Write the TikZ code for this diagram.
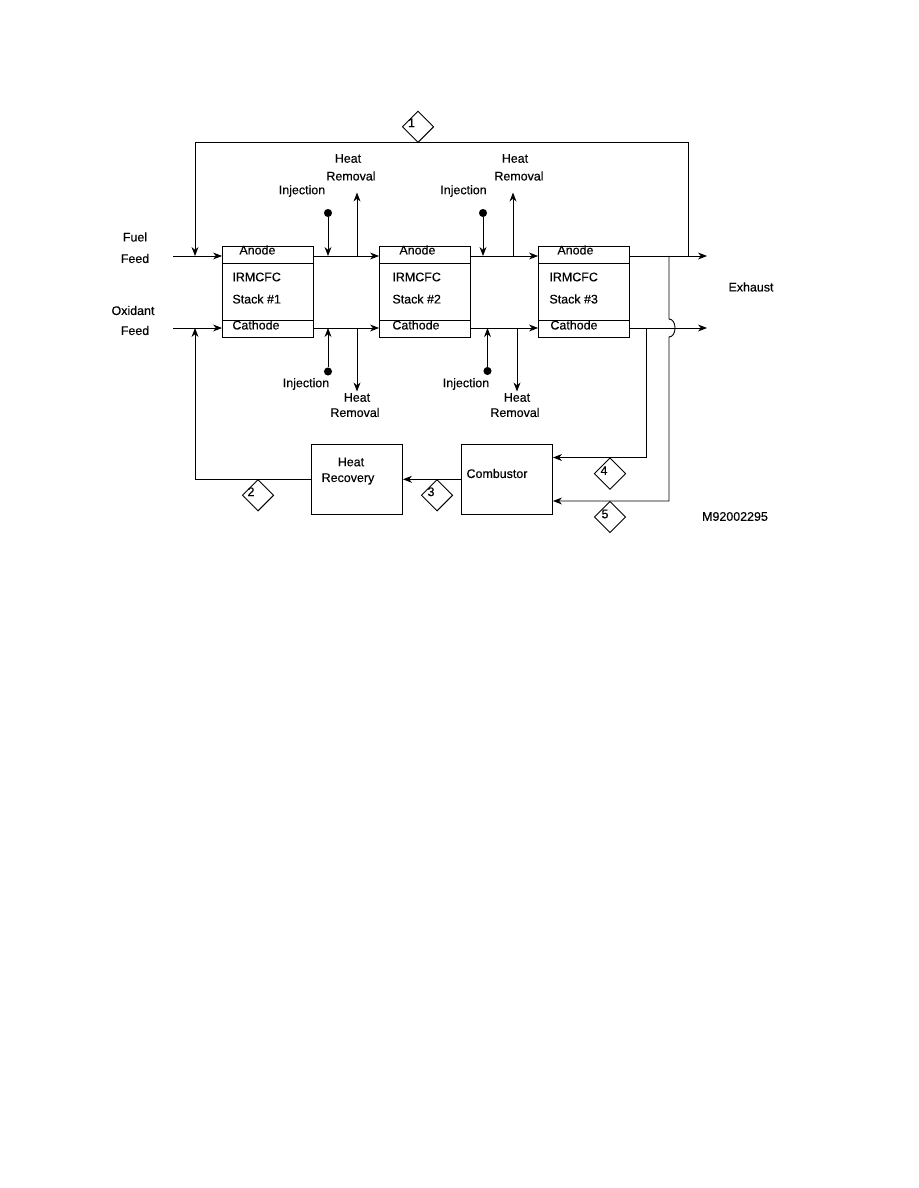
\documentclass[tikz,border=0pt]{standalone}
\usepackage{fontspec}
\setmainfont{Liberation Sans}[FakeBold=0.35]
\usetikzlibrary{arrows.meta,shapes.geometric,calc}
\begin{document}
\begin{tikzpicture}[x=0.6667pt,y=-0.6667pt,
  line width=0.6pt,
  arr/.style={-{Stealth[length=6pt,width=4.6pt,inset=1.9pt]}},
  lbl/.style={font=\fontsize{8.3}{10}\selectfont, inner sep=0pt},
  stackbox/.style={draw, rectangle, minimum width=60.67pt, minimum height=60.67pt, inner sep=0pt},
  unitbox/.style={draw, rectangle, minimum width=60.67pt, minimum height=46.67pt, inner sep=0pt},
  dia/.style={draw, diamond, minimum width=21pt, minimum height=21pt, inner sep=0pt},
  dot/.style={circle, fill, minimum size=5.4pt, inner sep=0pt},
]
\fill[white] (0,0) rectangle (918,1188);
\useasboundingbox (0,0) rectangle (918,1188);

% stacks
\node[stackbox] (s1) at (268,291.5) {};
\node[stackbox] (s2) at (425,291.5) {};
\node[stackbox] (s3) at (584,291.5) {};
\foreach \s in {s1,s2,s3}{
  \draw ($(\s.north west)+(0,18)$) -- ($(\s.north east)+(0,18)$);
  \draw ($(\s.south west)+(0,-17)$) -- ($(\s.south east)+(0,-17)$);
}
\node[lbl,anchor=west] (a1) at (239,250) {Anode};
\node[lbl,anchor=west] (t1) at (232,277) {IRMCFC};
\node[lbl,anchor=west] (n1) at (232,299) {Stack \#1};
\node[lbl,anchor=west] (c1) at (232,325) {Cathode};
\node[lbl,anchor=west] (a2) at (399,250) {Anode};
\node[lbl,anchor=west] (t2) at (392,277) {IRMCFC};
\node[lbl,anchor=west] (n2) at (392,299) {Stack \#2};
\node[lbl,anchor=west] (c2) at (392,325) {Cathode};
\node[lbl,anchor=west] (a3) at (557,250) {Anode};
\node[lbl,anchor=west] (t3) at (549,277) {IRMCFC};
\node[lbl,anchor=west] (n3) at (549,299) {Stack \#3};
\node[lbl,anchor=west] (c3) at (550,325) {Cathode};

% units
\node[unitbox] (hr) at (357,479.2) {};
\node[lbl] (hrt1) at (351,462) {Heat};
\node[lbl] (hrt2) at (348,479) {Recovery};
\node[unitbox] (cb) at (507,479.2) {};
\node[lbl] (cbt) at (497,473.5) {Combustor};

% feed labels and lines
\node[lbl] (fuel) at (135,237) {Fuel};
\node[lbl] (ffeed) at (135,258.5) {Feed};
\node[lbl] (oxid) at (133,310.5) {Oxidant};
\node[lbl] (ofeed) at (135,330.5) {Feed};
\coordinate (f0) at (173,256);
\coordinate (o0) at (173,328);
\draw[arr] (f0) -- (s1.west |- f0);
\draw[arr] (o0) -- (s1.west |- o0);
\draw[arr] (s1.east |- f0) -- (s2.west |- f0);
\draw[arr] (s1.east |- o0) -- (s2.west |- o0);
\draw[arr] (s2.east |- f0) -- (s3.west |- f0);
\draw[arr] (s2.east |- o0) -- (s3.west |- o0);
\coordinate (fe) at (707,256);
\coordinate (oe) at (707,328);
\draw[arr] (s3.east |- f0) -- (fe);
\draw[arr] (s3.east |- o0) -- (oe);
\node[lbl] (exh) at (751,287) {Exhaust};

% injections and heat removal, stage 1
\node[dot] (i1t) at (328,213) {};
\draw[arr] (i1t) -- (i1t |- f0);
\coordinate (h1t) at (357,192.5);
\draw[arr] (h1t |- f0) -- (h1t);
\node[lbl] (i1tl) at (302,191) {Injection};
\node[lbl] (h1tl1) at (348,158.5) {Heat};
\node[lbl] (h1tl2) at (351,176) {Removal};
\node[dot] (i1b) at (328,371.5) {};
\draw[arr] (i1b) -- (i1b |- o0);
\coordinate (h1b) at (357,391.5);
\draw[arr] (h1b |- o0) -- (h1b);
\node[lbl] (i1bl) at (306,384) {Injection};
\node[lbl] (h1bl1) at (357,397.5) {Heat};
\node[lbl] (h1bl2) at (355,412.5) {Removal};

% stage 2
\node[dot] (i2t) at (483,213) {};
\draw[arr] (i2t) -- (i2t |- f0);
\coordinate (h2t) at (513,192.5);
\draw[arr] (h2t |- f0) -- (h2t);
\node[lbl] (i2tl) at (463.5,191) {Injection};
\node[lbl] (h2tl1) at (515,158.5) {Heat};
\node[lbl] (h2tl2) at (519,176) {Removal};
\node[dot] (i2b) at (487.5,371) {};
\draw[arr] (i2b) -- (i2b |- o0);
\coordinate (h2b) at (517,391.5);
\draw[arr] (h2b |- o0) -- (h2b);
\node[lbl] (i2bl) at (466,384) {Injection};
\node[lbl] (h2bl1) at (517,397.5) {Heat};
\node[lbl] (h2bl2) at (515,412.5) {Removal};

% recycle 1 (anode exhaust to fuel feed)
\coordinate (r1a) at (688,256);
\coordinate (r1b) at (688,142.5);
\coordinate (r1c) at (195,142.5);
\draw[arr] (r1a) -- (r1b) -- (r1c) -- (r1c |- f0);
\node[dia] (d1) at (418,126.8) {};
\node[lbl] (d1n) at ($(d1)+(-6.5,-4)$) {1};

% recycle 2 (heat recovery to oxidant feed)
\coordinate (r2c) at (195,479.3);
\draw[arr] (hr.west |- r2c) -- (r2c) -- (r2c |- o0);
\node[dia] (d2) at (258,495.3) {};
\node[lbl] (d2n) at ($(d2)+(-7,-3.5)$) {2};

% stream 3
\draw[arr] (cb.west |- r2c) -- (hr.east |- r2c);
\node[dia] (d3) at (437,495.3) {};
\node[lbl] (d3n) at ($(d3)+(-6,-3.5)$) {3};

% stream 4 (cathode exhaust to combustor)
\coordinate (v4a) at (646,328);
\coordinate (v4b) at (646,457.5);
\draw[arr] (v4a) -- (v4b) -- (cb.east |- v4b);
\node[dia] (d4) at (610,473.6) {};
\node[lbl] (d4n) at ($(d4)+(-6,-3)$) {4};

% stream 5 (anode exhaust to combustor, hopping over cathode exhaust)
\coordinate (v5a) at (669,256);
\coordinate (v5h1) at (669,319);
\coordinate (v5h2) at (669,337);
\coordinate (v5b) at (669,501);
\draw[arr] (v5a) -- (v5h1) .. controls (677,319) and (677,337) .. (v5h2) -- (v5b) -- (cb.east |- v5b);
\node[dia] (d5) at (610,517) {};
\node[lbl] (d5n) at ($(d5)+(-5,-3)$) {5};

\node[lbl] (code) at (735,516.5) {M92002295};
\end{tikzpicture}
\end{document}
